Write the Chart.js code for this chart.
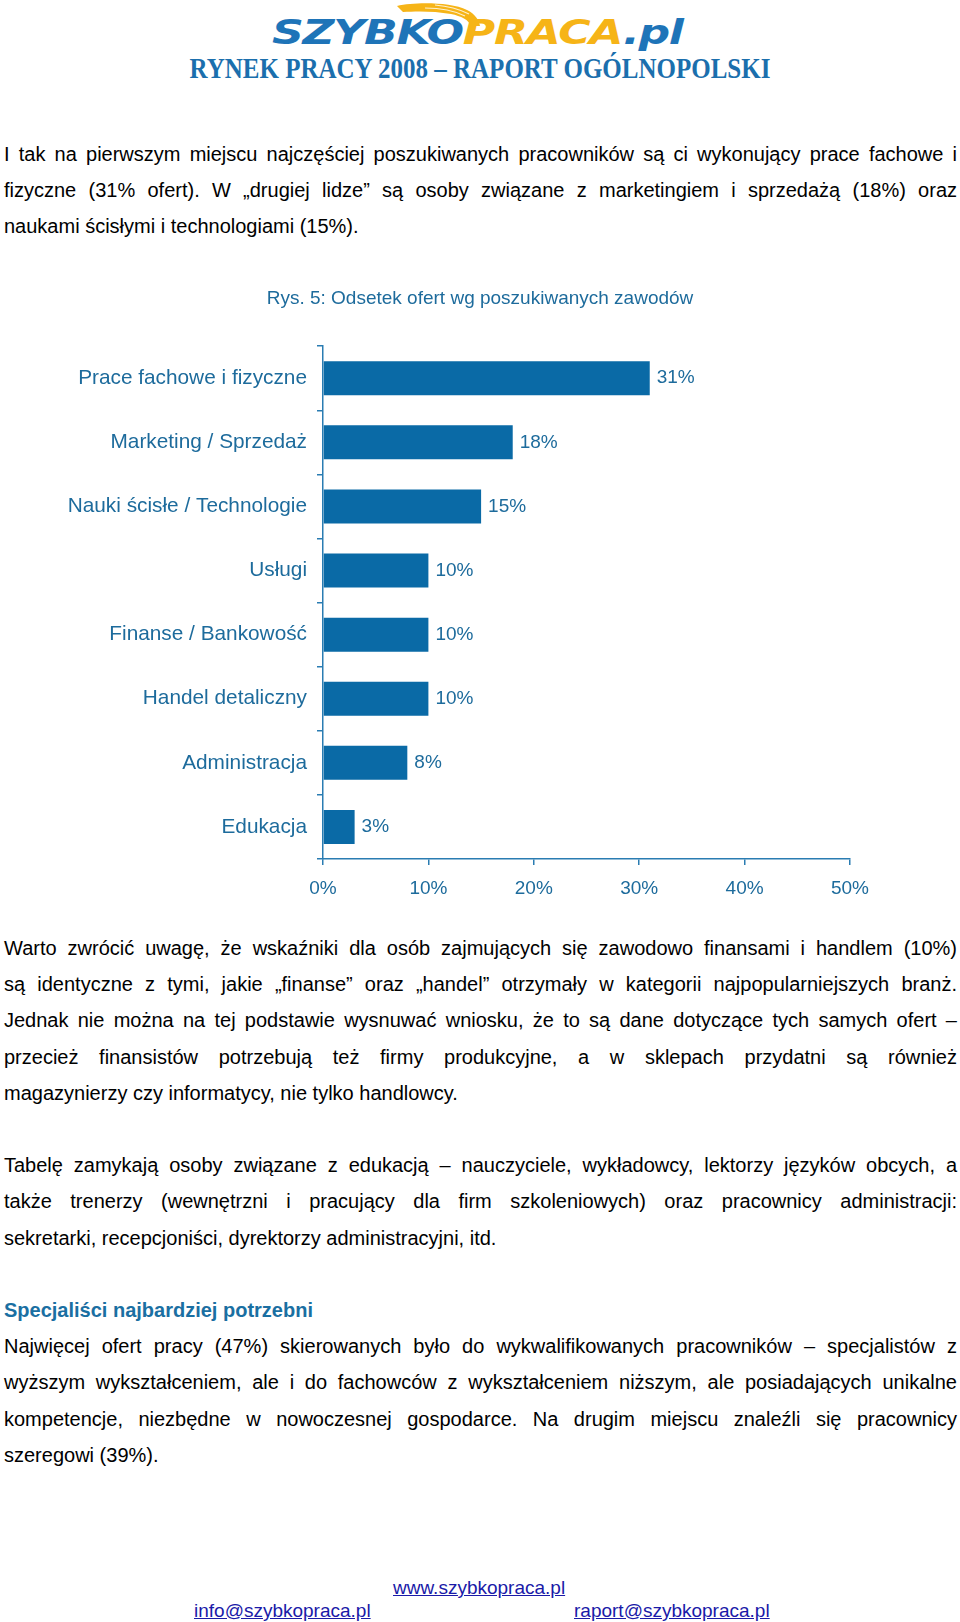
<!DOCTYPE html>
<html lang="pl">
<head>
<meta charset="utf-8">
<script src="https://cdn.jsdelivr.net/npm/chart.js@4/dist/chart.umd.min.js"></script>
<style>
  html, body { margin: 0; padding: 0; background: #fff; }
  body { width: 960px; height: 1622px; position: relative; overflow: hidden;
         font-family: "Liberation Sans", Arial, sans-serif; color: #000; }
  .abs { position: absolute; }
  .logo { left: 0; width: 960px; top: 0; height: 56px; }
  .logo-text { position: absolute; left: 272px; top: 12px; white-space: nowrap;
    font-family: "DejaVu Sans", sans-serif; font-weight: bold; font-style: italic;
    font-size: 34px; line-height: 40px; letter-spacing: -1px;
    transform-origin: 0 0; transform: scaleX(1.3); }
  .blue { color: #1e74b8; }
  .yellow { color: #f6b417; }
  .wing { position: absolute; left: 395px; top: 2px; }
  .report { left: 0; width: 960px; top: 53px; text-align: center;
    font-family: "Liberation Serif", "Times New Roman", serif; font-weight: bold;
    font-size: 25px; line-height: 30px; color: #1b6fad;
    transform-origin: 50% 50%; transform: scaleY(1.2); }
  .txt { left: 4px; width: 953px; font-size: 20px; line-height: 36.2px; }
  .j { text-align: justify; text-align-last: justify; white-space: nowrap; }
  .l { text-align: left; white-space: nowrap; }
  .gap { height: 36.2px; }
  .head { color: #1a6fa2; font-weight: bold; }
  .foot a { color: #1a1aa8; text-decoration: underline; font-size: 19px; }
  #chartWrap { position: absolute; left: 0; top: 270px; width: 960px; height: 640px; }
</style>
</head>
<body>
<div class="abs logo">
  <svg class="wing" width="90" height="26" viewBox="0 0 90 26">
    <path d="M2 4 C20 0 55 0 72 8 C80 12 84 18 85 24 L76 24 C74 18 66 14 56 12 C40 9 22 9 8 10 Z" fill="#f6b417"/>
    <path d="M30 6 C45 6 60 9 70 14 M40 3 C52 4 64 7 74 12" stroke="#fff" stroke-width="1.2" fill="none" opacity="0.8"/>
  </svg>
  <div class="logo-text"><span class="blue">SZYBKO</span><span class="yellow">PRACA</span><span class="blue">.pl</span></div>
</div>
<div class="abs report">RYNEK PRACY 2008 – RAPORT OGÓLNOPOLSKI</div>

<div class="abs txt" style="top:136px">
  <div class="j">I tak na pierwszym miejscu najczęściej poszukiwanych pracowników są ci wykonujący prace fachowe i</div>
  <div class="j">fizyczne (31% ofert). W „drugiej lidze” są osoby związane z marketingiem i sprzedażą (18%) oraz</div>
  <div class="l">naukami ścisłymi i technologiami (15%).</div>
</div>

<div id="chartWrap"><canvas id="chart" width="960" height="640"></canvas></div>

<div class="abs txt" style="top:930px">
  <div class="j">Warto zwrócić uwagę, że wskaźniki dla osób zajmujących się zawodowo finansami i handlem (10%)</div>
  <div class="j">są identyczne z tymi, jakie „finanse” oraz „handel” otrzymały w kategorii najpopularniejszych branż.</div>
  <div class="j">Jednak nie można na tej podstawie wysnuwać wniosku, że to są dane dotyczące tych samych ofert –</div>
  <div class="j">przecież finansistów potrzebują też firmy produkcyjne, a w sklepach przydatni są również</div>
  <div class="l">magazynierzy czy informatycy, nie tylko handlowcy.</div>
  <div class="gap"></div>
  <div class="j">Tabelę zamykają osoby związane z edukacją – nauczyciele, wykładowcy, lektorzy języków obcych, a</div>
  <div class="j">także trenerzy (wewnętrzni i pracujący dla firm szkoleniowych) oraz pracownicy administracji:</div>
  <div class="l">sekretarki, recepcjoniści, dyrektorzy administracyjni, itd.</div>
  <div class="gap"></div>
  <div class="l head">Specjaliści najbardziej potrzebni</div>
  <div class="j">Najwięcej ofert pracy (47%) skierowanych było do wykwalifikowanych pracowników – specjalistów z</div>
  <div class="j">wyższym wykształceniem, ale i do fachowców z wykształceniem niższym, ale posiadających unikalne</div>
  <div class="j">kompetencje, niezbędne w nowoczesnej gospodarce. Na drugim miejscu znaleźli się pracownicy</div>
  <div class="l">szeregowi (39%).</div>
</div>

<div class="abs foot" style="left:393px; top:1576px; line-height:24px;"><a>www.szybkopraca.pl</a></div>
<div class="abs foot" style="left:194px; top:1599px; line-height:24px;"><a>info@szybkopraca.pl</a></div>
<div class="abs foot" style="left:574px; top:1599px; line-height:24px;"><a>raport@szybkopraca.pl</a></div>

<script>
// ---- data ----
const chartTitle = 'Rys. 5: Odsetek ofert wg poszukiwanych zawodów';
const categories = [
  'Prace fachowe i fizyczne',
  'Marketing / Sprzedaż',
  'Nauki ścisłe / Technologie',
  'Usługi',
  'Finanse / Bankowość',
  'Handel detaliczny',
  'Administracja',
  'Edukacja'
];
const values = [31, 18, 15, 10, 10, 10, 8, 3];
const xTickValues = [0, 10, 20, 30, 40, 50];

// ---- style ----
const barColor = '#0a6aa6';
const textColor = '#1d6b9c';
const axisColor = '#2a7cb2';
const fontFamily = '"Liberation Sans", Arial, sans-serif';

const valueLabels = {
  id: 'valueLabels',
  afterDatasetsDraw(chart) {
    const ctx = chart.ctx;
    const meta = chart.getDatasetMeta(0);
    ctx.save();
    ctx.font = '19px ' + fontFamily;
    ctx.fillStyle = textColor;
    ctx.textAlign = 'left';
    ctx.textBaseline = 'middle';
    meta.data.forEach((bar, i) => {
      ctx.fillText(values[i] + '%', bar.x + 7, bar.y);
    });
    ctx.restore();
  }
};

new Chart(document.getElementById('chart'), {
  type: 'bar',
  data: {
    labels: categories,
    datasets: [{
      data: values,
      backgroundColor: barColor,
      borderWidth: 0,
      categoryPercentage: 1,
      barPercentage: 0.53
    }]
  },
  plugins: [valueLabels],
  options: {
    indexAxis: 'y',
    responsive: false,
    animation: false,
    devicePixelRatio: 1,
    layout: { padding: 0 },
    plugins: {
      legend: { display: false },
      tooltip: { enabled: false },
      title: {
        display: true,
        text: chartTitle,
        color: textColor,
        font: { family: fontFamily, size: 19, weight: 'normal' },
        padding: { top: 17.2, bottom: 36.2 }
      }
    },
    scales: {
      y: {
        type: 'category',
        position: 'left',
        offset: true,
        afterFit(scale) { scale.width = 323; },
        grid: { offset: true, drawOnChartArea: false, drawTicks: true, tickLength: 6,
                color: axisColor, lineWidth: 1.5 },
        border: { display: true, color: axisColor, width: 1.5 },
        ticks: { color: textColor, padding: 10, font: { family: fontFamily, size: 20.8 } }
      },
      spacer: {
        type: 'linear',
        position: 'right',
        display: true,
        afterFit(scale) { scale.width = 110; },
        grid: { display: false, drawTicks: false },
        border: { display: false },
        ticks: { display: false }
      },
      x: {
        type: 'linear',
        min: xTickValues[0],
        max: xTickValues[xTickValues.length - 1],
        afterFit(scale) { scale.height = 51; },
        afterBuildTicks(scale) { scale.ticks = xTickValues.map(v => ({ value: v })); },
        grid: { drawOnChartArea: false, drawTicks: true, tickLength: 6,
                color: axisColor, lineWidth: 1.5 },
        border: { display: true, color: axisColor, width: 1.5 },
        ticks: { color: textColor, padding: 12, font: { family: fontFamily, size: 19 },
                 callback: v => v + '%' }
      }
    }
  }
});
</script>
</body>
</html>
